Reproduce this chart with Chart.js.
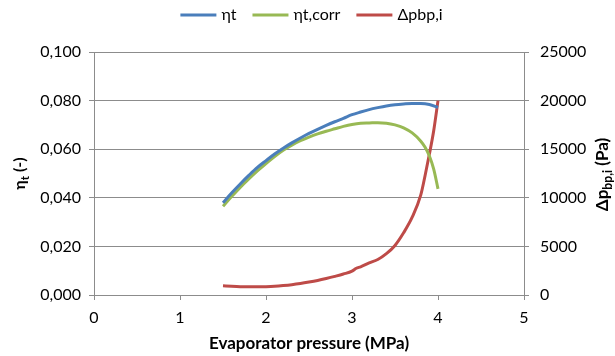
<!DOCTYPE html>
<html>
<head>
<meta charset="utf-8">
<script src="https://cdn.jsdelivr.net/npm/chart.js@4"></script>
<style>
  html, body { margin: 0; padding: 0; background: #fff; }
  #wrap { width: 615px; height: 356px; }
</style>
</head>
<body>
<div id="wrap"><canvas id="c" width="615" height="356"></canvas></div>
<script>
var blue = '#4A7EBB';
var green = '#98B954';
var red = '#BE4B48';
var gridColor = '#8C8C8C';
var fontFam = 'Lato, "Noto Sans", sans-serif';

// efficiency eta_t (left axis)
var etaP = [1.5, 1.6, 1.7, 1.8, 1.9, 2.0, 2.1, 2.2, 2.3, 2.4, 2.5, 2.6, 2.7, 2.8, 2.9, 3.0, 3.1, 3.2, 3.3, 3.4, 3.5, 3.6, 3.7, 3.8, 3.9, 4.0];
var etaT = [0.0380, 0.0420, 0.0457, 0.0492, 0.0525, 0.0553, 0.0580, 0.0604, 0.0626, 0.0646, 0.0665, 0.0682, 0.0698, 0.0713, 0.0727, 0.0742, 0.0753, 0.0763, 0.0771, 0.0778, 0.0783, 0.0786, 0.0788, 0.0788, 0.0784, 0.0772];

// corrected efficiency eta_t,corr (left axis)
var corrP = [1.5, 1.6, 1.7, 1.8, 1.9, 2.0, 2.1, 2.2, 2.3, 2.4, 2.5, 2.6, 2.7, 2.8, 2.9, 3.0, 3.1, 3.2, 3.3, 3.4, 3.5, 3.6, 3.7, 3.8, 3.85, 3.9, 3.95, 4.0];
var corrT = [0.0365, 0.0405, 0.0443, 0.0478, 0.0511, 0.0541, 0.0570, 0.0596, 0.0617, 0.0635, 0.0650, 0.0663, 0.0674, 0.0684, 0.0694, 0.0702, 0.0707, 0.0708, 0.0709, 0.0707, 0.0700, 0.0688, 0.0667, 0.0633, 0.0608, 0.0572, 0.0518, 0.0437];

// pressure drop dp_bp,i in Pa (right axis)
var dpP = [1.5, 1.6, 1.7, 1.8, 1.9, 2.0, 2.1, 2.2, 2.3, 2.4, 2.5, 2.6, 2.7, 2.8, 2.9, 3.0, 3.05, 3.1, 3.2, 3.3, 3.4, 3.5, 3.6, 3.7, 3.8, 3.85, 3.9, 3.95, 4.0];
var dpPa = [950, 900, 860, 840, 840, 860, 900, 970, 1060, 1180, 1330, 1500, 1700, 1920, 2160, 2450, 2750, 2900, 3300, 3650, 4250, 5100, 6400, 8000, 10300, 12300, 14500, 16900, 20000];

var legendNames = ['ηt', 'ηt,corr', 'Δpbp,i'];
var xTicks = [0, 5, 1];
var yTicks = [0, 0.1, 0.02];
var y2Ticks = [0, 25000, 5000];

function pts(xs, ys) {
  return xs.map(function(x, i) { return { x: x, y: ys[i] }; });
}

function lineSet(label, data, color, axis) {
  return { label: label, data: data, borderColor: color, backgroundColor: color, borderWidth: 3,
    pointRadius: 0, cubicInterpolationMode: 'monotone', yAxisID: axis, fill: false };
}

// text made of normal + subscript pieces, centred on 0,0
function drawParts(ctx, parts, size, weight) {
  var total = 0;
  parts.forEach(function(p) {
    ctx.font = weight + ' ' + (p.sub ? size * 0.72 : size) + 'px ' + fontFam;
    p.w = ctx.measureText(p.t).width;
    total += p.w;
  });
  var x = -total / 2;
  parts.forEach(function(p) {
    ctx.font = weight + ' ' + (p.sub ? size * 0.72 : size) + 'px ' + fontFam;
    ctx.fillText(p.t, x, p.sub ? size * 0.3 : 0);
    x += p.w;
  });
}

var axisTitles = {
  id: 'axisTitles',
  afterDraw: function(chart) {
    var ctx = chart.ctx;
    var a = chart.chartArea;
    var midY = (a.top + a.bottom) / 2;
    ctx.save();
    ctx.fillStyle = '#000';
    ctx.textBaseline = 'middle';
    ctx.textAlign = 'left';

    ctx.save();
    ctx.translate(20, midY);
    ctx.rotate(-Math.PI / 2);
    drawParts(ctx, [{ t: 'η' }, { t: 't', sub: true }, { t: ' (-)' }], 16, 'bold');
    ctx.restore();

    ctx.save();
    ctx.translate(603, midY + 1);
    ctx.rotate(-Math.PI / 2);
    drawParts(ctx, [{ t: 'Δp' }, { t: 'bp,i', sub: true }, { t: ' (Pa)' }], 17, 'bold');
    ctx.restore();

    ctx.save();
    ctx.translate((a.left + a.right) / 2, 344);
    drawParts(ctx, [{ t: 'Evaporator pressure (MPa)' }], 17, 'bold');
    ctx.restore();

    // legend: line swatch + label for each dataset
    var items = chart.data.datasets;
    ctx.font = '16px ' + fontFam;
    var sw = 36, gapTxt = 5, gapItem = 16, total = 0;
    items.forEach(function(d) { total += sw + gapTxt + ctx.measureText(d.label).width; });
    total += gapItem * (items.length - 1);
    var x = chart.width / 2 - total / 2 + 4;
    var y = 15;
    items.forEach(function(d) {
      ctx.strokeStyle = d.borderColor;
      ctx.lineWidth = 3;
      ctx.beginPath();
      ctx.moveTo(x, y);
      ctx.lineTo(x + sw, y);
      ctx.stroke();
      ctx.fillStyle = '#000';
      ctx.fillText(d.label, x + sw + gapTxt, y);
      x += sw + gapTxt + ctx.measureText(d.label).width + gapItem;
    });

    ctx.restore();
  }
};

new Chart(document.getElementById('c').getContext('2d'), {
  type: 'line',
  data: {
    datasets: [
      lineSet(legendNames[0], pts(etaP, etaT), blue, 'y'),
      lineSet(legendNames[1], pts(corrP, corrT), green, 'y'),
      lineSet(legendNames[2], pts(dpP, dpPa), red, 'y2')
    ]
  },
  options: {
    responsive: false, animation: false,
    layout: { padding: { top: 52, left: 0, right: 0, bottom: 0 } },
    plugins: {
      tooltip: { enabled: false },
      legend: { display: false }
    },
    scales: {
      x: {
        type: 'linear', min: xTicks[0], max: xTicks[1],
        ticks: { stepSize: xTicks[2], color: '#000', font: { family: fontFam, size: 16 }, padding: 8 },
        grid: { drawOnChartArea: false, color: gridColor, tickLength: 5 },
        border: { color: gridColor },
        afterFit: function(s) { s.height = 61; }
      },
      y: {
        position: 'left', min: yTicks[0], max: yTicks[1],
        ticks: { stepSize: yTicks[2], color: '#000', font: { family: fontFam, size: 16 }, padding: 8,
          callback: function(v) { return v.toFixed(3).replace('.', ','); } },
        grid: { color: gridColor, tickLength: 5 },
        border: { color: gridColor },
        afterFit: function(s) { s.width = 94; }
      },
      y2: {
        position: 'right', min: y2Ticks[0], max: y2Ticks[1],
        ticks: { stepSize: y2Ticks[2], color: '#000', font: { family: fontFam, size: 16 }, padding: 11,
          callback: function(v) { return String(v); } },
        grid: { drawOnChartArea: false, color: gridColor, tickLength: 5 },
        border: { color: gridColor },
        afterFit: function(s) { s.width = 91; }
      }
    }
  },
  plugins: [axisTitles]
});
</script>
</body>
</html>
